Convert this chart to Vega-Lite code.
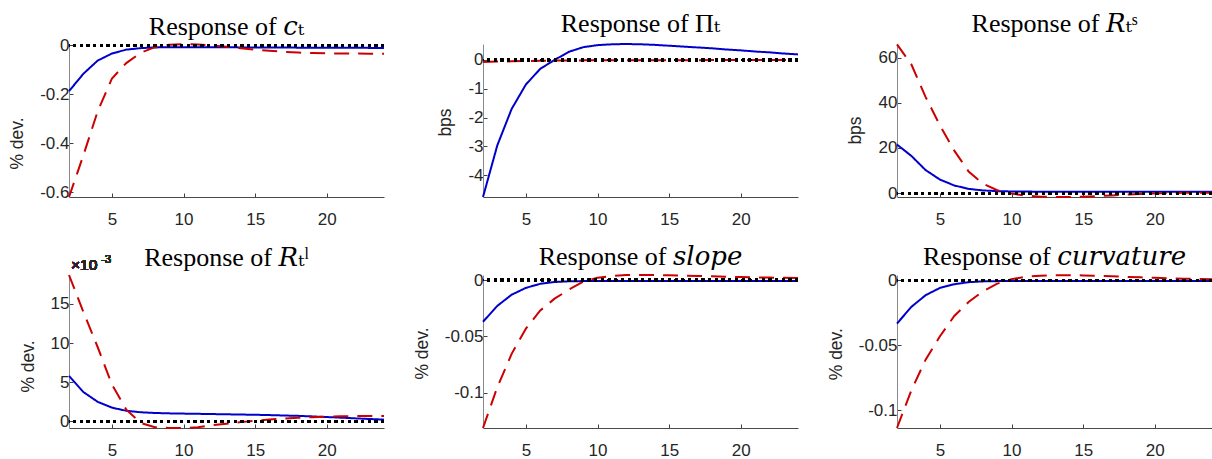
{
  "$schema": "https://vega.github.io/schema/vega-lite/v6.json",
  "padding": {"left": 0, "top": 11, "right": 0, "bottom": 0},
  "background": "white",
  "datasets": {
    "c": [
      {"t":2,"s":"blue","v":-0.187},{"t":3,"s":"blue","v":-0.116},{"t":4,"s":"blue","v":-0.062},{"t":5,"s":"blue","v":-0.033},{"t":6,"s":"blue","v":-0.017},{"t":7,"s":"blue","v":-0.011},{"t":8,"s":"blue","v":-0.008},{"t":9,"s":"blue","v":-0.007},{"t":10,"s":"blue","v":-0.007},{"t":11,"s":"blue","v":-0.007},{"t":12,"s":"blue","v":-0.007},{"t":13,"s":"blue","v":-0.007},{"t":14,"s":"blue","v":-0.008},{"t":15,"s":"blue","v":-0.008},{"t":16,"s":"blue","v":-0.008},{"t":17,"s":"blue","v":-0.008},{"t":18,"s":"blue","v":-0.009},{"t":19,"s":"blue","v":-0.009},{"t":20,"s":"blue","v":-0.009},{"t":21,"s":"blue","v":-0.009},{"t":22,"s":"blue","v":-0.009},{"t":23,"s":"blue","v":-0.01},{"t":24,"s":"blue","v":-0.01},
      {"t":2,"s":"red","v":-0.62},{"t":3,"s":"red","v":-0.45},{"t":4,"s":"red","v":-0.27},{"t":5,"s":"red","v":-0.135},{"t":6,"s":"red","v":-0.072},{"t":7,"s":"red","v":-0.03},{"t":8,"s":"red","v":-0.007},{"t":9,"s":"red","v":0.003},{"t":10,"s":"red","v":0.0055},{"t":11,"s":"red","v":0.004},{"t":12,"s":"red","v":0.0},{"t":13,"s":"red","v":-0.005},{"t":14,"s":"red","v":-0.011},{"t":15,"s":"red","v":-0.017},{"t":16,"s":"red","v":-0.022},{"t":17,"s":"red","v":-0.026},{"t":18,"s":"red","v":-0.029},{"t":19,"s":"red","v":-0.031},{"t":20,"s":"red","v":-0.032},{"t":21,"s":"red","v":-0.033},{"t":22,"s":"red","v":-0.033},{"t":23,"s":"red","v":-0.034},{"t":24,"s":"red","v":-0.034}
    ],
    "pi": [
      {"t":2,"s":"blue","v":-4.75},{"t":3,"s":"blue","v":-2.96},{"t":4,"s":"blue","v":-1.7},{"t":5,"s":"blue","v":-0.85},{"t":6,"s":"blue","v":-0.31},{"t":7,"s":"blue","v":0.0},{"t":8,"s":"blue","v":0.28},{"t":9,"s":"blue","v":0.44},{"t":10,"s":"blue","v":0.51},{"t":11,"s":"blue","v":0.54},{"t":12,"s":"blue","v":0.55},{"t":13,"s":"blue","v":0.54},{"t":14,"s":"blue","v":0.52},{"t":15,"s":"blue","v":0.49},{"t":16,"s":"blue","v":0.46},{"t":17,"s":"blue","v":0.43},{"t":18,"s":"blue","v":0.4},{"t":19,"s":"blue","v":0.36},{"t":20,"s":"blue","v":0.33},{"t":21,"s":"blue","v":0.29},{"t":22,"s":"blue","v":0.26},{"t":23,"s":"blue","v":0.22},{"t":24,"s":"blue","v":0.19},
      {"t":2,"s":"red","v":-0.07},{"t":3,"s":"red","v":-0.06},{"t":4,"s":"red","v":-0.05},{"t":5,"s":"red","v":-0.04},{"t":6,"s":"red","v":-0.03},{"t":7,"s":"red","v":-0.025},{"t":8,"s":"red","v":-0.02},{"t":9,"s":"red","v":-0.017},{"t":10,"s":"red","v":-0.015},{"t":11,"s":"red","v":-0.013},{"t":12,"s":"red","v":-0.012},{"t":13,"s":"red","v":-0.011},{"t":14,"s":"red","v":-0.01},{"t":15,"s":"red","v":-0.01},{"t":16,"s":"red","v":-0.009},{"t":17,"s":"red","v":-0.009},{"t":18,"s":"red","v":-0.008},{"t":19,"s":"red","v":-0.008},{"t":20,"s":"red","v":-0.008},{"t":21,"s":"red","v":-0.007},{"t":22,"s":"red","v":-0.007},{"t":23,"s":"red","v":-0.007},{"t":24,"s":"red","v":-0.007}
    ],
    "rs": [
      {"t":2,"s":"blue","v":21.5},{"t":3,"s":"blue","v":16.5},{"t":4,"s":"blue","v":10.2},{"t":5,"s":"blue","v":6.0},{"t":6,"s":"blue","v":3.4},{"t":7,"s":"blue","v":1.9},{"t":8,"s":"blue","v":1.2},{"t":9,"s":"blue","v":0.9},{"t":10,"s":"blue","v":0.75},{"t":11,"s":"blue","v":0.7},{"t":12,"s":"blue","v":0.65},{"t":13,"s":"blue","v":0.65},{"t":14,"s":"blue","v":0.6},{"t":15,"s":"blue","v":0.6},{"t":16,"s":"blue","v":0.6},{"t":17,"s":"blue","v":0.6},{"t":18,"s":"blue","v":0.6},{"t":19,"s":"blue","v":0.6},{"t":20,"s":"blue","v":0.6},{"t":21,"s":"blue","v":0.6},{"t":22,"s":"blue","v":0.6},{"t":23,"s":"blue","v":0.6},{"t":24,"s":"blue","v":0.6},
      {"t":2,"s":"red","v":65.8},{"t":3,"s":"red","v":57},{"t":4,"s":"red","v":42.5},{"t":5,"s":"red","v":30},{"t":6,"s":"red","v":18.8},{"t":7,"s":"red","v":9.6},{"t":8,"s":"red","v":4.2},{"t":9,"s":"red","v":1.3},{"t":10,"s":"red","v":-0.2},{"t":11,"s":"red","v":-1.1},{"t":12,"s":"red","v":-1.55},{"t":13,"s":"red","v":-1.7},{"t":14,"s":"red","v":-1.7},{"t":15,"s":"red","v":-1.6},{"t":16,"s":"red","v":-1.35},{"t":17,"s":"red","v":-1.0},{"t":18,"s":"red","v":-0.65},{"t":19,"s":"red","v":-0.35},{"t":20,"s":"red","v":-0.1},{"t":21,"s":"red","v":0.05},{"t":22,"s":"red","v":0.15},{"t":23,"s":"red","v":0.2},{"t":24,"s":"red","v":0.2}
    ],
    "rl": [
      {"t":2,"s":"blue","v":0.0058},{"t":3,"s":"blue","v":0.00375},{"t":4,"s":"blue","v":0.0025},{"t":5,"s":"blue","v":0.00175},{"t":6,"s":"blue","v":0.00135},{"t":7,"s":"blue","v":0.00116},{"t":8,"s":"blue","v":0.00107},{"t":9,"s":"blue","v":0.00102},{"t":10,"s":"blue","v":0.00099},{"t":11,"s":"blue","v":0.00096},{"t":12,"s":"blue","v":0.00093},{"t":13,"s":"blue","v":0.0009},{"t":14,"s":"blue","v":0.00087},{"t":15,"s":"blue","v":0.00084},{"t":16,"s":"blue","v":0.0008},{"t":17,"s":"blue","v":0.00075},{"t":18,"s":"blue","v":0.0007},{"t":19,"s":"blue","v":0.00063},{"t":20,"s":"blue","v":0.00055},{"t":21,"s":"blue","v":0.00047},{"t":22,"s":"blue","v":0.00038},{"t":23,"s":"blue","v":0.0003},{"t":24,"s":"blue","v":0.00022},
      {"t":2,"s":"red","v":0.0187},{"t":3,"s":"red","v":0.014},{"t":4,"s":"red","v":0.0095},{"t":5,"s":"red","v":0.0047},{"t":6,"s":"red","v":0.0015},{"t":7,"s":"red","v":-0.0002},{"t":8,"s":"red","v":-0.00075},{"t":9,"s":"red","v":-0.00085},{"t":10,"s":"red","v":-0.00085},{"t":11,"s":"red","v":-0.00075},{"t":12,"s":"red","v":-0.0005},{"t":13,"s":"red","v":-0.0003},{"t":14,"s":"red","v":-0.0001},{"t":15,"s":"red","v":0.00008},{"t":16,"s":"red","v":0.00025},{"t":17,"s":"red","v":0.00035},{"t":18,"s":"red","v":0.00045},{"t":19,"s":"red","v":0.00053},{"t":20,"s":"red","v":0.0006},{"t":21,"s":"red","v":0.00064},{"t":22,"s":"red","v":0.00067},{"t":23,"s":"red","v":0.00068},{"t":24,"s":"red","v":0.00068}
    ],
    "slope": [
      {"t":2,"s":"blue","v":-0.037},{"t":3,"s":"blue","v":-0.0229},{"t":4,"s":"blue","v":-0.013},{"t":5,"s":"blue","v":-0.0069},{"t":6,"s":"blue","v":-0.0033},{"t":7,"s":"blue","v":-0.0017},{"t":8,"s":"blue","v":-0.0011},{"t":9,"s":"blue","v":-0.0009},{"t":10,"s":"blue","v":-0.0009},{"t":11,"s":"blue","v":-0.0009},{"t":12,"s":"blue","v":-0.0009},{"t":13,"s":"blue","v":-0.0009},{"t":14,"s":"blue","v":-0.0009},{"t":15,"s":"blue","v":-0.0009},{"t":16,"s":"blue","v":-0.0009},{"t":17,"s":"blue","v":-0.0009},{"t":18,"s":"blue","v":-0.0009},{"t":19,"s":"blue","v":-0.0009},{"t":20,"s":"blue","v":-0.0009},{"t":21,"s":"blue","v":-0.0009},{"t":22,"s":"blue","v":-0.0009},{"t":23,"s":"blue","v":-0.0009},{"t":24,"s":"blue","v":-0.0009},
      {"t":2,"s":"red","v":-0.1313},{"t":3,"s":"red","v":-0.095},{"t":4,"s":"red","v":-0.0655},{"t":5,"s":"red","v":-0.043},{"t":6,"s":"red","v":-0.027},{"t":7,"s":"red","v":-0.0165},{"t":8,"s":"red","v":-0.0085},{"t":9,"s":"red","v":-0.0015},{"t":10,"s":"red","v":0.002},{"t":11,"s":"red","v":0.0037},{"t":12,"s":"red","v":0.0044},{"t":13,"s":"red","v":0.0045},{"t":14,"s":"red","v":0.0044},{"t":15,"s":"red","v":0.0042},{"t":16,"s":"red","v":0.0039},{"t":17,"s":"red","v":0.0036},{"t":18,"s":"red","v":0.0033},{"t":19,"s":"red","v":0.003},{"t":20,"s":"red","v":0.0027},{"t":21,"s":"red","v":0.0024},{"t":22,"s":"red","v":0.0022},{"t":23,"s":"red","v":0.002},{"t":24,"s":"red","v":0.0018}
    ],
    "curv": [
      {"t":2,"s":"blue","v":-0.0333},{"t":3,"s":"blue","v":-0.0205},{"t":4,"s":"blue","v":-0.0115},{"t":5,"s":"blue","v":-0.0059},{"t":6,"s":"blue","v":-0.0031},{"t":7,"s":"blue","v":-0.0015},{"t":8,"s":"blue","v":-0.0009},{"t":9,"s":"blue","v":-0.0007},{"t":10,"s":"blue","v":-0.0006},{"t":11,"s":"blue","v":-0.0006},{"t":12,"s":"blue","v":-0.0006},{"t":13,"s":"blue","v":-0.0006},{"t":14,"s":"blue","v":-0.0006},{"t":15,"s":"blue","v":-0.0006},{"t":16,"s":"blue","v":-0.0006},{"t":17,"s":"blue","v":-0.0006},{"t":18,"s":"blue","v":-0.0006},{"t":19,"s":"blue","v":-0.0006},{"t":20,"s":"blue","v":-0.0006},{"t":21,"s":"blue","v":-0.0006},{"t":22,"s":"blue","v":-0.0006},{"t":23,"s":"blue","v":-0.0006},{"t":24,"s":"blue","v":-0.0006},
      {"t":2,"s":"red","v":-0.1135},{"t":3,"s":"red","v":-0.0846},{"t":4,"s":"red","v":-0.061},{"t":5,"s":"red","v":-0.043},{"t":6,"s":"red","v":-0.0275},{"t":7,"s":"red","v":-0.0167},{"t":8,"s":"red","v":-0.0085},{"t":9,"s":"red","v":-0.0026},{"t":10,"s":"red","v":0.0008},{"t":11,"s":"red","v":0.0026},{"t":12,"s":"red","v":0.0035},{"t":13,"s":"red","v":0.0039},{"t":14,"s":"red","v":0.0039},{"t":15,"s":"red","v":0.0037},{"t":16,"s":"red","v":0.0034},{"t":17,"s":"red","v":0.003},{"t":18,"s":"red","v":0.0026},{"t":19,"s":"red","v":0.0022},{"t":20,"s":"red","v":0.0018},{"t":21,"s":"red","v":0.0015},{"t":22,"s":"red","v":0.0012},{"t":23,"s":"red","v":0.0009},{"t":24,"s":"red","v":0.0007}
    ]
  },
  "columns": 3,
  "spacing": {"column": 25, "row": 17},
  "concat": [
    {
      "width": 315, "height": 153,
      "title": {"text": "Response of 𝑐ₜ", "offset": -4},
      "data": {"name": "c"},
      "encoding": {
        "x": {"field": "t", "type": "quantitative", "scale": {"domain": [2, 24], "nice": false, "zero": false}, "axis": {"values": [5, 10, 15, 20], "title": null}},
        "y": {"field": "v", "type": "quantitative", "scale": {"domain": [-0.62, 0.006], "nice": false, "zero": false}, "axis": {"values": [-0.6, -0.4, -0.2, 0], "labelExpr": "'' + datum.value", "title": "% dev.", "titleX": -52, "titleY": 99}}
      },
      "layer": [
        {"mark": {"type": "line", "strokeWidth": 2}, "encoding": {
          "color": {"field": "s", "type": "nominal", "scale": {"domain": ["blue", "red"], "range": ["#0000cc", "#cc0000"]}, "legend": null},
          "strokeDash": {"field": "s", "type": "nominal", "scale": {"domain": ["blue", "red"], "range": [[1, 0], [15, 9]]}, "legend": null}}},
        {"mark": {"type": "rule", "color": "black", "strokeWidth": 2.5, "strokeDash": [2.5, 4.2]}, "encoding": {"y": {"datum": 0}, "x": null}}
      ]
    },
    {
      "width": 315, "height": 153,
      "title": {"text": "Response of Πₜ", "offset": 3},
      "data": {"name": "pi"},
      "encoding": {
        "x": {"field": "t", "type": "quantitative", "scale": {"domain": [2, 24], "nice": false, "zero": false}, "axis": {"values": [5, 10, 15, 20], "title": null}},
        "y": {"field": "v", "type": "quantitative", "scale": {"domain": [-4.75, 0.55], "nice": false, "zero": false}, "axis": {"values": [-4, -3, -2, -1, 0], "labelExpr": "'' + datum.value", "title": "bps", "titleX": -37.7, "titleY": 78}}
      },
      "layer": [
        {"mark": {"type": "line", "strokeWidth": 2}, "encoding": {
          "color": {"field": "s", "type": "nominal", "scale": {"domain": ["blue", "red"], "range": ["#0000cc", "#cc0000"]}, "legend": null},
          "strokeDash": {"field": "s", "type": "nominal", "scale": {"domain": ["blue", "red"], "range": [[1, 0], [15, 9]]}, "legend": null}}},
        {"mark": {"type": "rule", "color": "black", "strokeWidth": 2.5, "strokeDash": [2.5, 4.2]}, "encoding": {"y": {"datum": 0}, "x": null}}
      ]
    },
    {
      "width": 315, "height": 153,
      "title": {"text": "Response of 𝑅ₜˢ", "offset": 3},
      "data": {"name": "rs"},
      "encoding": {
        "x": {"field": "t", "type": "quantitative", "scale": {"domain": [2, 24], "nice": false, "zero": false}, "axis": {"values": [5, 10, 15, 20], "title": null}},
        "y": {"field": "v", "type": "quantitative", "scale": {"domain": [-1.7, 66], "nice": false, "zero": false}, "axis": {"values": [0, 20, 40, 60], "labelExpr": "'' + datum.value", "title": "bps", "titleX": -41.8, "titleY": 86}}
      },
      "layer": [
        {"mark": {"type": "line", "strokeWidth": 2}, "encoding": {
          "color": {"field": "s", "type": "nominal", "scale": {"domain": ["blue", "red"], "range": ["#0000cc", "#cc0000"]}, "legend": null},
          "strokeDash": {"field": "s", "type": "nominal", "scale": {"domain": ["blue", "red"], "range": [[1, 0], [15, 9]]}, "legend": null}}},
        {"mark": {"type": "rule", "color": "black", "strokeWidth": 2.5, "strokeDash": [2.5, 4.2]}, "encoding": {"y": {"datum": 0}, "x": null}}
      ]
    },
    {
      "width": 315, "height": 153,
      "title": {"text": "Response of 𝑅ₜˡ", "offset": -17},
      "data": {"name": "rl"},
      "encoding": {
        "x": {"field": "t", "type": "quantitative", "scale": {"domain": [2, 24], "nice": false, "zero": false}, "axis": {"values": [5, 10, 15, 20], "title": null}},
        "y": {"field": "v", "type": "quantitative", "scale": {"domain": [-0.00085, 0.0187], "nice": false, "zero": false}, "axis": {"values": [0, 0.005, 0.01, 0.015], "labelExpr": "'' + round(datum.value * 1000)", "title": "% dev.", "titleX": -40.7, "titleY": 91}}
      },
      "layer": [
        {"mark": {"type": "line", "strokeWidth": 2}, "encoding": {
          "color": {"field": "s", "type": "nominal", "scale": {"domain": ["blue", "red"], "range": ["#0000cc", "#cc0000"]}, "legend": null},
          "strokeDash": {"field": "s", "type": "nominal", "scale": {"domain": ["blue", "red"], "range": [[1, 0], [15, 9]]}, "legend": null}}},
        {"mark": {"type": "rule", "color": "black", "strokeWidth": 2.5, "strokeDash": [2.5, 4.2]}, "encoding": {"y": {"datum": 0}, "x": null}},
        {"mark": {"type": "text", "text": "×10", "align": "left", "baseline": "alphabetic", "dx": 2, "dy": -5, "fontSize": 15.5, "font": "Liberation Sans", "color": "#262626"}, "encoding": {"x": {"datum": 2}, "y": {"datum": 0.0187}}},
        {"mark": {"type": "text", "text": "-3", "align": "left", "baseline": "alphabetic", "dx": 32, "dy": -12, "fontSize": 11.5, "font": "Liberation Sans", "color": "#262626"}, "encoding": {"x": {"datum": 2}, "y": {"datum": 0.0187}}}
      ]
    },
    {
      "width": 315, "height": 153,
      "title": {"text": "Response of 𝑠𝑙𝑜𝑝𝑒", "offset": 1},
      "data": {"name": "slope"},
      "encoding": {
        "x": {"field": "t", "type": "quantitative", "scale": {"domain": [2, 24], "nice": false, "zero": false}, "axis": {"values": [5, 10, 15, 20], "title": null}},
        "y": {"field": "v", "type": "quantitative", "scale": {"domain": [-0.1313, 0.0045], "nice": false, "zero": false}, "axis": {"values": [-0.1, -0.05, 0], "labelExpr": "'' + datum.value", "title": "% dev.", "titleX": -60.2, "titleY": 78}}
      },
      "layer": [
        {"mark": {"type": "line", "strokeWidth": 2}, "encoding": {
          "color": {"field": "s", "type": "nominal", "scale": {"domain": ["blue", "red"], "range": ["#0000cc", "#cc0000"]}, "legend": null},
          "strokeDash": {"field": "s", "type": "nominal", "scale": {"domain": ["blue", "red"], "range": [[1, 0], [15, 9]]}, "legend": null}}},
        {"mark": {"type": "rule", "color": "black", "strokeWidth": 2.5, "strokeDash": [2.5, 4.2]}, "encoding": {"y": {"datum": 0}, "x": null}}
      ]
    },
    {
      "width": 315, "height": 153,
      "title": {"text": "Response of 𝑐𝑢𝑟𝑣𝑎𝑡𝑢𝑟𝑒", "offset": 1},
      "data": {"name": "curv"},
      "encoding": {
        "x": {"field": "t", "type": "quantitative", "scale": {"domain": [2, 24], "nice": false, "zero": false}, "axis": {"values": [5, 10, 15, 20], "title": null}},
        "y": {"field": "v", "type": "quantitative", "scale": {"domain": [-0.1135, 0.004], "nice": false, "zero": false}, "axis": {"values": [-0.1, -0.05, 0], "labelExpr": "'' + datum.value", "title": "% dev.", "titleX": -61, "titleY": 78.7}}
      },
      "layer": [
        {"mark": {"type": "line", "strokeWidth": 2}, "encoding": {
          "color": {"field": "s", "type": "nominal", "scale": {"domain": ["blue", "red"], "range": ["#0000cc", "#cc0000"]}, "legend": null},
          "strokeDash": {"field": "s", "type": "nominal", "scale": {"domain": ["blue", "red"], "range": [[1, 0], [15, 9]]}, "legend": null}}},
        {"mark": {"type": "rule", "color": "black", "strokeWidth": 2.5, "strokeDash": [2.5, 4.2]}, "encoding": {"y": {"datum": 0}, "x": null}}
      ]
    }
  ],
  "config": {
    "view": {"stroke": null},
    "font": "Liberation Sans",
    "axis": {"labelFont": "Liberation Sans", "labelFontSize": 17, "labelColor": "#262626", "titleFont": "Liberation Sans", "titleFontSize": 17.5, "titleFontWeight": "normal", "titleColor": "#262626", "titleBaseline": "middle", "grid": false, "tickColor": "#404040", "tickSize": -4, "labelFlush": false, "labelOverlap": false},
    "axisX": {"labelPadding": 18, "domainColor": "#4a4a4a"},
    "axisY": {"labelPadding": 4, "domainColor": "#8a8a8a", "minExtent": 69, "maxExtent": 69},
    "title": {"font": "Liberation Serif, DejaVu Serif", "fontSize": 26, "fontWeight": "normal", "color": "#000000", "frame": "group", "anchor": "middle", "baseline": "alphabetic"}
  }
}
